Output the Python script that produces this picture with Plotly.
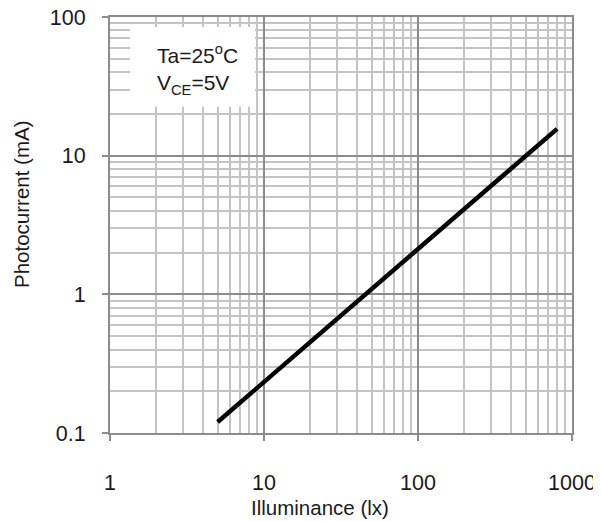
import plotly.graph_objects as go

# Data
illuminance = [5, 10, 100, 800]          # lx
photocurrent = [0.12, 0.233, 2.12, 15.6]  # mA

x_tickvals = [1, 10, 100, 1000]
x_ticktext = ["1", "10", "100", "1000"]
y_tickvals = [0.1, 1, 10, 100]
y_ticktext = ["0.1", "1", "10", "100"]
x_title = "Illuminance (lx)"
y_title = "Photocurrent (mA)"
conditions = "Ta=25<sup>o</sup>C<br>V<sub>CE</sub>=5V"

FONT = "Liberation Sans, Arial, sans-serif"
TXT = "#1a1a1a"
FS_TICK = 21.5
FS_TITLE = 20.5
FS_BOX = 21
MAJOR = "#8c8c8c"
MINOR = "#c4c4c4"

fig = go.Figure()
fig.add_trace(go.Scatter(
    x=illuminance, y=photocurrent, mode="lines",
    line=dict(color="black", width=4.5), showlegend=False,
))

axis_common = dict(
    type="log", showline=True, linecolor=MAJOR, linewidth=2, mirror=True,
    showgrid=True, gridcolor=MAJOR, gridwidth=2,
    ticks="outside", ticklen=6, tickcolor=MAJOR, tickwidth=2,
    tickfont=dict(family=FONT, size=FS_TICK, color=TXT),
    minor=dict(showgrid=True, gridcolor=MINOR, gridwidth=2, dtick="D1", ticks=""),
    zeroline=False, automargin=False, ticklabeloverflow="allow",
)

fig.update_xaxes(**axis_common, range=[0, 3], tickvals=x_tickvals, ticktext=x_ticktext,
                 ticklabelstandoff=23)
fig.update_yaxes(**axis_common, range=[-1, 2], tickvals=y_tickvals, ticktext=y_ticktext,
                 ticklabelstandoff=12)

# Axis titles (placed as in the reference, slightly off-centre)
fig.add_annotation(xref="paper", yref="paper", x=0.455, y=-0.179,
                   text=x_title, showarrow=False, xanchor="center", yanchor="middle",
                   font=dict(family=FONT, size=FS_TITLE, color=TXT))
fig.add_annotation(xref="paper", yref="paper", x=-0.1905, y=0.5505,
                   text=y_title, showarrow=False, xanchor="center", yanchor="middle",
                   textangle=-90, font=dict(family=FONT, size=FS_TITLE, color=TXT))

# Condition box
fig.add_shape(type="rect", xref="paper", yref="paper",
              x0=0.0433, x1=0.3139, y0=0.784, y1=0.976,
              fillcolor="white", line=dict(width=0), layer="above")
fig.add_annotation(xref="paper", yref="paper", x=0.097, y=0.874,
                   text=conditions, showarrow=False, xanchor="left", yanchor="middle",
                   align="left", font=dict(family=FONT, size=FS_BOX, color=TXT))

# page body has an 8px margin: compensate so the plot area lands at 110..572 x 17..433
fig.update_layout(
    width=593, height=513,
    margin=dict(l=102, r=29, t=9, b=88),
    paper_bgcolor="white", plot_bgcolor="white",
    font=dict(family=FONT),
)

fig.write_html("out.html")
